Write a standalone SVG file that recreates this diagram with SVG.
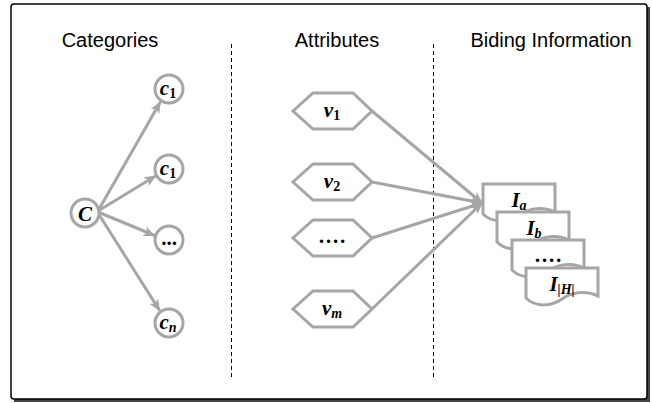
<svg xmlns="http://www.w3.org/2000/svg" width="652" height="403" viewBox="0 0 652 403">
<defs>
<style>
.node{fill:#fff;stroke:#a6a6a6;stroke-width:3}
.conn{fill:none;stroke:#a6a6a6;stroke-width:3}
.title{font-family:"Liberation Sans",Arial,sans-serif;font-size:20px;fill:#000;text-anchor:middle}
.lbl{font-family:"Liberation Serif","Times New Roman",serif;font-weight:bold;font-style:italic;font-size:21px;fill:#000;text-anchor:middle}
.sub{font-size:14px}
.up{font-style:normal}
.div{stroke:#000;stroke-width:1;stroke-dasharray:4,3}
</style>
<marker id="ah" markerWidth="12" markerHeight="10" refX="11" refY="5" orient="auto" markerUnits="userSpaceOnUse">
<path d="M0,0 L12,5 L0,10 L3,5 Z" fill="#a6a6a6"/>
</marker>
<path id="doc" d="M0,0 H72 V28 C60,22 46,24 36,31 C26,38 10,40 0,30 Z"/>
</defs>
<rect x="14" y="7" width="636" height="395" fill="#444"/>
<rect x="11" y="4" width="636" height="395" rx="3" fill="#fff" stroke="#000" stroke-width="1.5"/>
<text class="title" x="110" y="47">Categories</text>
<text class="title" x="337" y="47">Attributes</text>
<text class="title" x="551" y="47">Biding Information</text>
<line class="div" x1="231.5" y1="44" x2="231.5" y2="378"/>
<line class="div" x1="433.5" y1="44" x2="433.5" y2="378"/>
<g id="connectors">
<line class="conn" x1="98" y1="211" x2="160.3" y2="102" marker-end="url(#ah)"/>
<line class="conn" x1="98" y1="211" x2="155.5" y2="176" marker-end="url(#ah)"/>
<line class="conn" x1="98" y1="212" x2="154.5" y2="235.5" marker-end="url(#ah)"/>
<line class="conn" x1="98" y1="213" x2="159.6" y2="310.5" marker-end="url(#ah)"/>
<line class="conn" x1="372" y1="111" x2="482" y2="203" marker-end="url(#ah)"/>
<line class="conn" x1="372" y1="182" x2="482" y2="203" marker-end="url(#ah)"/>
<line class="conn" x1="372" y1="238" x2="482" y2="203" marker-end="url(#ah)"/>
<line class="conn" x1="372" y1="309" x2="482" y2="203" marker-end="url(#ah)"/>
</g>
<g id="C"><circle class="node" cx="85" cy="213" r="14"/><text class="lbl" x="85" y="220.5" font-size="22">C</text></g>
<g id="c1a"><circle class="node" cx="169" cy="89" r="14"/><text class="lbl" x="168" y="95">c<tspan class="sub up" dy="3">1</tspan></text></g>
<g id="c1b"><circle class="node" cx="169" cy="169" r="14"/><text class="lbl" x="168" y="175">c<tspan class="sub up" dy="3">1</tspan></text></g>
<g id="cdots"><circle class="node" cx="169" cy="240" r="14"/><text class="lbl up" x="169" y="245">...</text></g>
<g id="cn"><circle class="node" cx="169" cy="323" r="14"/><text class="lbl" x="168" y="329">c<tspan class="sub" dy="3">n</tspan></text></g>
<g id="v1"><polygon class="node" points="293,111 313,93 353,93 372,111 353,129 313,129"/><text class="lbl" x="332" y="117">v<tspan class="sub up" dy="3">1</tspan></text></g>
<g id="v2"><polygon class="node" points="293,182 313,164 353,164 372,182 353,200 313,200"/><text class="lbl" x="332" y="188">v<tspan class="sub up" dy="3">2</tspan></text></g>
<g id="vdots"><polygon class="node" points="293,238 313,220 353,220 372,238 353,256 313,256"/><text class="lbl up" x="332" y="243" letter-spacing="1">….</text></g>
<g id="vm"><polygon class="node" points="293,309 313,291 353,291 372,309 353,327 313,327"/><text class="lbl" x="332" y="315">v<tspan class="sub" dy="3">m</tspan></text></g>
<g id="Ia"><use href="#doc" class="node" x="483" y="184"/><text class="lbl" x="519" y="207" font-size="22">I<tspan class="sub" dy="3">a</tspan></text></g>
<g id="Ib"><use href="#doc" class="node" x="497" y="212"/><text class="lbl" x="534" y="235" font-size="22">I<tspan class="sub" dy="3">b</tspan></text></g>
<g id="Idots"><use href="#doc" class="node" x="512" y="240"/><text class="lbl up" x="548" y="262" letter-spacing="1">….</text></g>
<g id="IH"><use href="#doc" class="node" x="526" y="268"/><text class="lbl" x="562" y="291" font-size="22">I<tspan class="sub" dy="3">|H|</tspan></text></g>
</svg>
